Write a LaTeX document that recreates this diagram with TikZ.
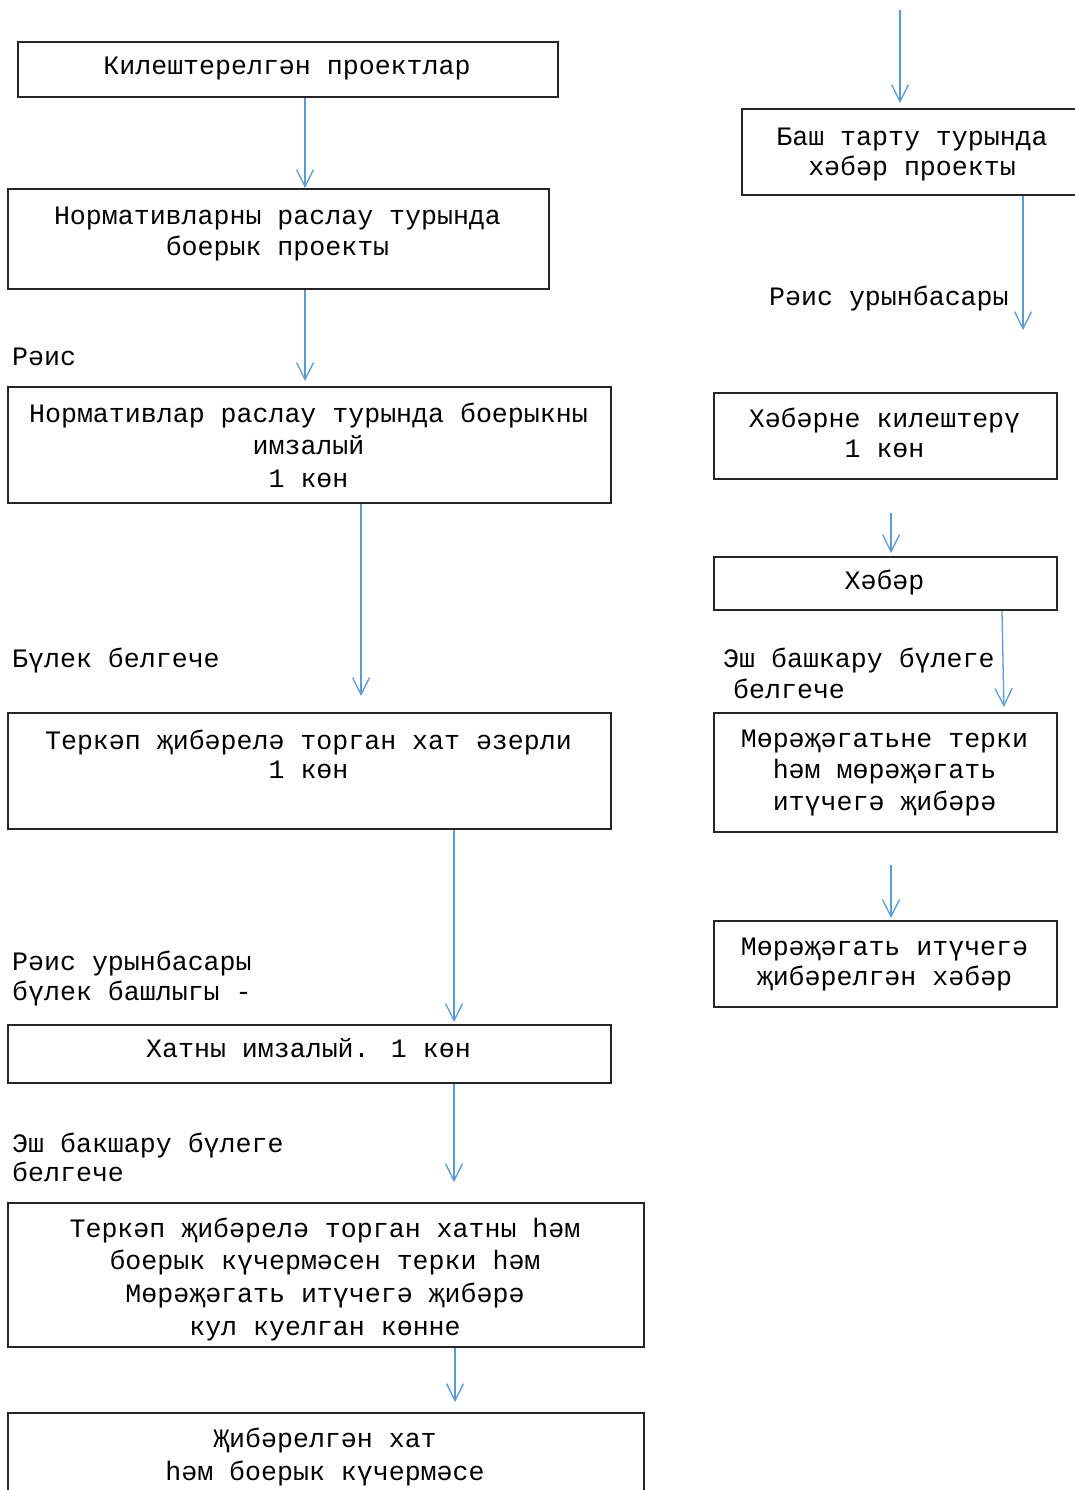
\documentclass[tikz,border=0pt]{standalone}
\usepackage{fontspec}
\setmainfont{Liberation Mono}
\usetikzlibrary{arrows.meta}
\definecolor{arrblue}{RGB}{91,155,213}
\newcommand\fs{\rule{0pt}{25pt}}
\begin{document}
\begin{tikzpicture}[x=1pt,y=-1pt,
  box/.style={draw=black!85, line width=2pt, inner sep=0pt, anchor=north west},
  txt/.style={inner sep=0pt, anchor=north, align=center, font=\fontsize{26.6}{#1}\selectfont},
  txt/.default=32.5,
  lbl/.style={inner sep=0pt, anchor=north west, align=left, font=\fontsize{26.6}{#1}\selectfont},
  lbl/.default=30,
  arr/.style={draw=arrblue, line width=1.3pt, -{Straight Barb[length=17pt,width=17pt]}}]
\useasboundingbox (0,0) rectangle (1074,1490);
% ---------- left column boxes ----------
\node[box, minimum width=540pt, minimum height=55pt] (b1) at (17,41) {};
\node[txt] (t1) at (287,49) {\fs Килештерелгән проектлар};
\node[box, minimum width=541pt, minimum height=100pt] (b2) at (7,188) {};
\node[txt=31] (t2) at (277.5,199) {\fs Нормативларны раслау турында\\боерык проекты};
\node[box, minimum width=603pt, minimum height=116pt] (b3) at (7,386) {};
\node[txt=32.5] (t3) at (308.5,397) {\fs Нормативлар раслау турында боерыкны\\имзалый\\1 көн};
\node[box, minimum width=603pt, minimum height=116pt] (b4) at (7,712) {};
\node[txt=29] (t4) at (308.5,724) {\fs Теркәп җибәрелә торган хат әзерли\\1 көн};
\node[box, minimum width=603pt, minimum height=58pt] (b5) at (7,1024) {};
\node[txt] (t5) at (308.5,1032.5) {\fs Хатны имзалый. 1 көн};
\node[box, minimum width=636pt, minimum height=144pt] (b6) at (7,1202) {};
\node[txt=32.7] (t6) at (325,1212) {\fs Теркәп җибәрелә торган хатны һәм\\боерык күчермәсен терки һәм\\Мөрәҗәгать итүчегә җибәрә\\кул куелган көнне};
\node[box, minimum width=636pt, minimum height=130pt] (b7) at (7,1412) {};
\node[txt=33] (t7) at (325,1422) {\fs Җибәрелгән хат\\һәм боерык күчермәсе};
% ---------- left labels ----------
\node[lbl] (l1) at (12,340) {\fs Рәис};
\node[lbl] (l2) at (12,642) {\fs Бүлек белгече};
\node[lbl=30] (l3) at (12,945) {\fs Рәис урынбасары\\бүлек башлыгы -};
\node[lbl=29.5] (l4) at (12,1127) {\fs Эш бакшару бүлеге\\белгече};
% ---------- right column ----------
\node[box, minimum width=342pt, minimum height=86pt] (rb1) at (741,108) {};
\node[txt=30] (rt1) at (912,120) {\fs Баш тарту турында\\хәбәр проекты};
\node[lbl] (rl1) at (769,280) {\fs Рәис урынбасары};
\node[box, minimum width=343pt, minimum height=86pt] (rb2) at (713,392) {};
\node[txt=30] (rt2) at (884.5,402) {\fs Хәбәрне килештерү\\1 көн};
\node[box, minimum width=343pt, minimum height=53pt] (rb3) at (713,556) {};
\node[txt] (rt3) at (884.5,564) {\fs Хәбәр};
\node[lbl=31] (rl2) at (723,642) {\fs Эш башкару бүлеге\\\hspace*{10pt}белгече};
\node[box, minimum width=343pt, minimum height=119pt] (rb4) at (713,712) {};
\node[txt=31.5] (rt4) at (884.5,722) {\fs Мөрәҗәгатьне терки\\һәм мөрәҗәгать\\итүчегә җибәрә};
\node[box, minimum width=343pt, minimum height=86pt] (rb5) at (713,920) {};
\node[txt=30] (rt5) at (884.5,930) {\fs Мөрәҗәгать итүчегә\\җибәрелгән хәбәр};
% ---------- connector columns ----------
\coordinate (xA) at (305,0);
\coordinate (xB) at (361,0);
\coordinate (xC) at (454,0);
\coordinate (xD) at (455,0);
\coordinate (top) at (900,10);
\coordinate (xR1) at (1023,0);
\coordinate (xR2) at (891,0);
\coordinate (xR3a) at (1002,0);
\coordinate (xR3b) at (1004,0);
% ---------- left arrows ----------
\draw[arr] (b1.south -| xA) -- (b2.north -| xA);
\draw[arr, shorten >=5pt] (b2.south -| xA) -- (b3.north -| xA);
\draw[arr, shorten >=16pt] (b3.south -| xB) -- (b4.north -| xB);
\draw[arr, shorten >=2pt] (b4.south -| xC) -- (b5.north -| xC);
\draw[arr, shorten >=20pt] (b5.south -| xC) -- (b6.north -| xC);
\draw[arr, shorten >=10pt] (b6.south -| xD) -- (b7.north -| xD);
% ---------- right arrows ----------
\draw[arr, shorten >=5pt] (top) -- (rb1.north -| top);
\draw[arr, shorten >=62pt] (rb1.south -| xR1) -- (rb2.north -| xR1);
\draw[arr, shorten <=33pt, shorten >=3pt] (rb2.south -| xR2) -- (rb3.north -| xR2);
\draw[arr, shorten >=5pt] (rb3.south -| xR3a) -- (rb4.north -| xR3b);
\draw[arr, shorten <=32pt, shorten >=2pt] (rb4.south -| xR2) -- (rb5.north -| xR2);
\end{tikzpicture}
\end{document}
